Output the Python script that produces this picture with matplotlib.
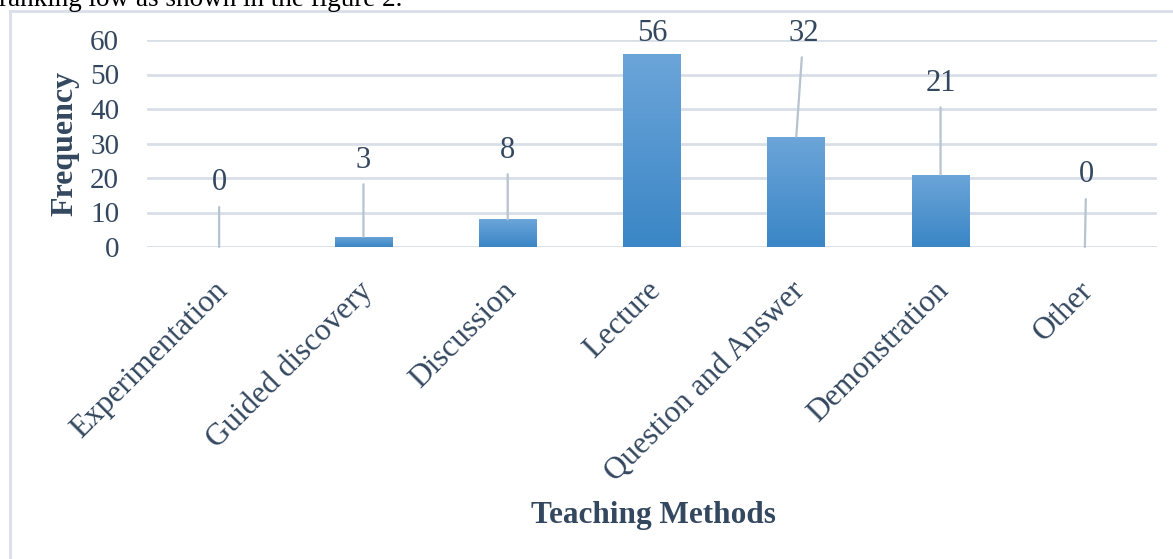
import numpy as np
import matplotlib.pyplot as plt
import matplotlib.transforms as mtransforms
from matplotlib.colors import LinearSegmentedColormap

# data
methods = ["Experimentation", "Guided discovery", "Discussion", "Lecture",
           "Question and Answer", "Demonstration", "Other"]
frequency = [0, 3, 8, 56, 32, 21, 0]
yticks = [0, 10, 20, 30, 40, 50, 60]

# where the value labels sit (data units), layout only
label_y = [18.6, 25.2, 28.1, 62.0, 62.0, 47.5, 20.9]
label_dx = [0.0, 0.0, 0.0, 0.0, 0.05, 0.0, 0.01]

text_col = "#33475f"
grid_col = "#d9dfe8"
plt.rcParams['font.family'] = ['Liberation Serif', 'DejaVu Serif']

fig = plt.figure(figsize=(11.73, 5.59), dpi=100)
ax = fig.add_axes([147/1173, 1 - 247/559, 1010/1173, 207/559])

x = np.arange(len(methods))
bars = ax.bar(x, frequency, width=0.4, color="#4f94d0", zorder=2)

# vertical gradient on every bar
cmap = LinearSegmentedColormap.from_list("bar", ["#3a86c6", "#6ca5d9"])
grad = np.linspace(0, 1, 256).reshape(-1, 1)
for b in bars:
    if b.get_height() <= 0:
        continue
    x0, y0 = b.get_x(), b.get_y()
    im = ax.imshow(grad, cmap=cmap, origin="lower", aspect="auto", zorder=3,
                   extent=[x0, x0 + b.get_width(), y0, y0 + b.get_height()])
    im.set_clip_path(b)

# value labels with leader lines
for i, v in enumerate(frequency):
    props = None
    if label_y[i] - v > 8:
        props = dict(arrowstyle="-", color="#b7c3d1", lw=1.6, shrinkA=5, shrinkB=0)
    ax.annotate(str(v), xy=(i, v), xytext=(i + label_dx[i], label_y[i]),
                ha="center", va="center", fontsize=22, color=text_col,
                arrowprops=props, annotation_clip=False, zorder=4)

ax.set_xlim(-0.5, len(methods) - 0.5)
ax.set_ylim(0, 60)
ax.set_yticks(yticks)
ax.yaxis.grid(True, color=grid_col, linewidth=2)
ax.set_axisbelow(True)
for s in ax.spines.values():
    s.set_visible(False)
ax.tick_params(axis="y", length=0, pad=20, labelsize=21, labelcolor=text_col)
ax.tick_params(axis="x", length=0, pad=21, labelsize=22.5, labelcolor=text_col)
ax.set_xticks(x)
ax.set_xticklabels(methods, rotation=45, ha="right", rotation_mode="anchor")
shift = mtransforms.ScaledTranslation(-6/100, 0, fig.dpi_scale_trans)
for lab in ax.get_xticklabels():
    lab.set_transform(lab.get_transform() + shift)

ax.set_ylabel("Frequency", fontsize=23, fontweight="bold", color=text_col, labelpad=8)
fig.text(653/1173, 1 - 515/559, "Teaching Methods", ha="center", va="center",
         fontsize=22.5, fontweight="bold", color=text_col)

# frame of the chart box and cut-off page text
fig.add_artist(plt.Line2D([10/1173, 1], [1 - 11/559, 1 - 11/559], color=grid_col, lw=2))
fig.add_artist(plt.Line2D([10/1173, 10/1173], [0, 1 - 11/559], color=grid_col, lw=2))
fig.text(-0.001, 1 - 6/559, "ranking low as shown in the figure 2.", ha="left",
         va="baseline", fontsize=19.5, color="black")

fig.savefig("out.png", dpi=100)
